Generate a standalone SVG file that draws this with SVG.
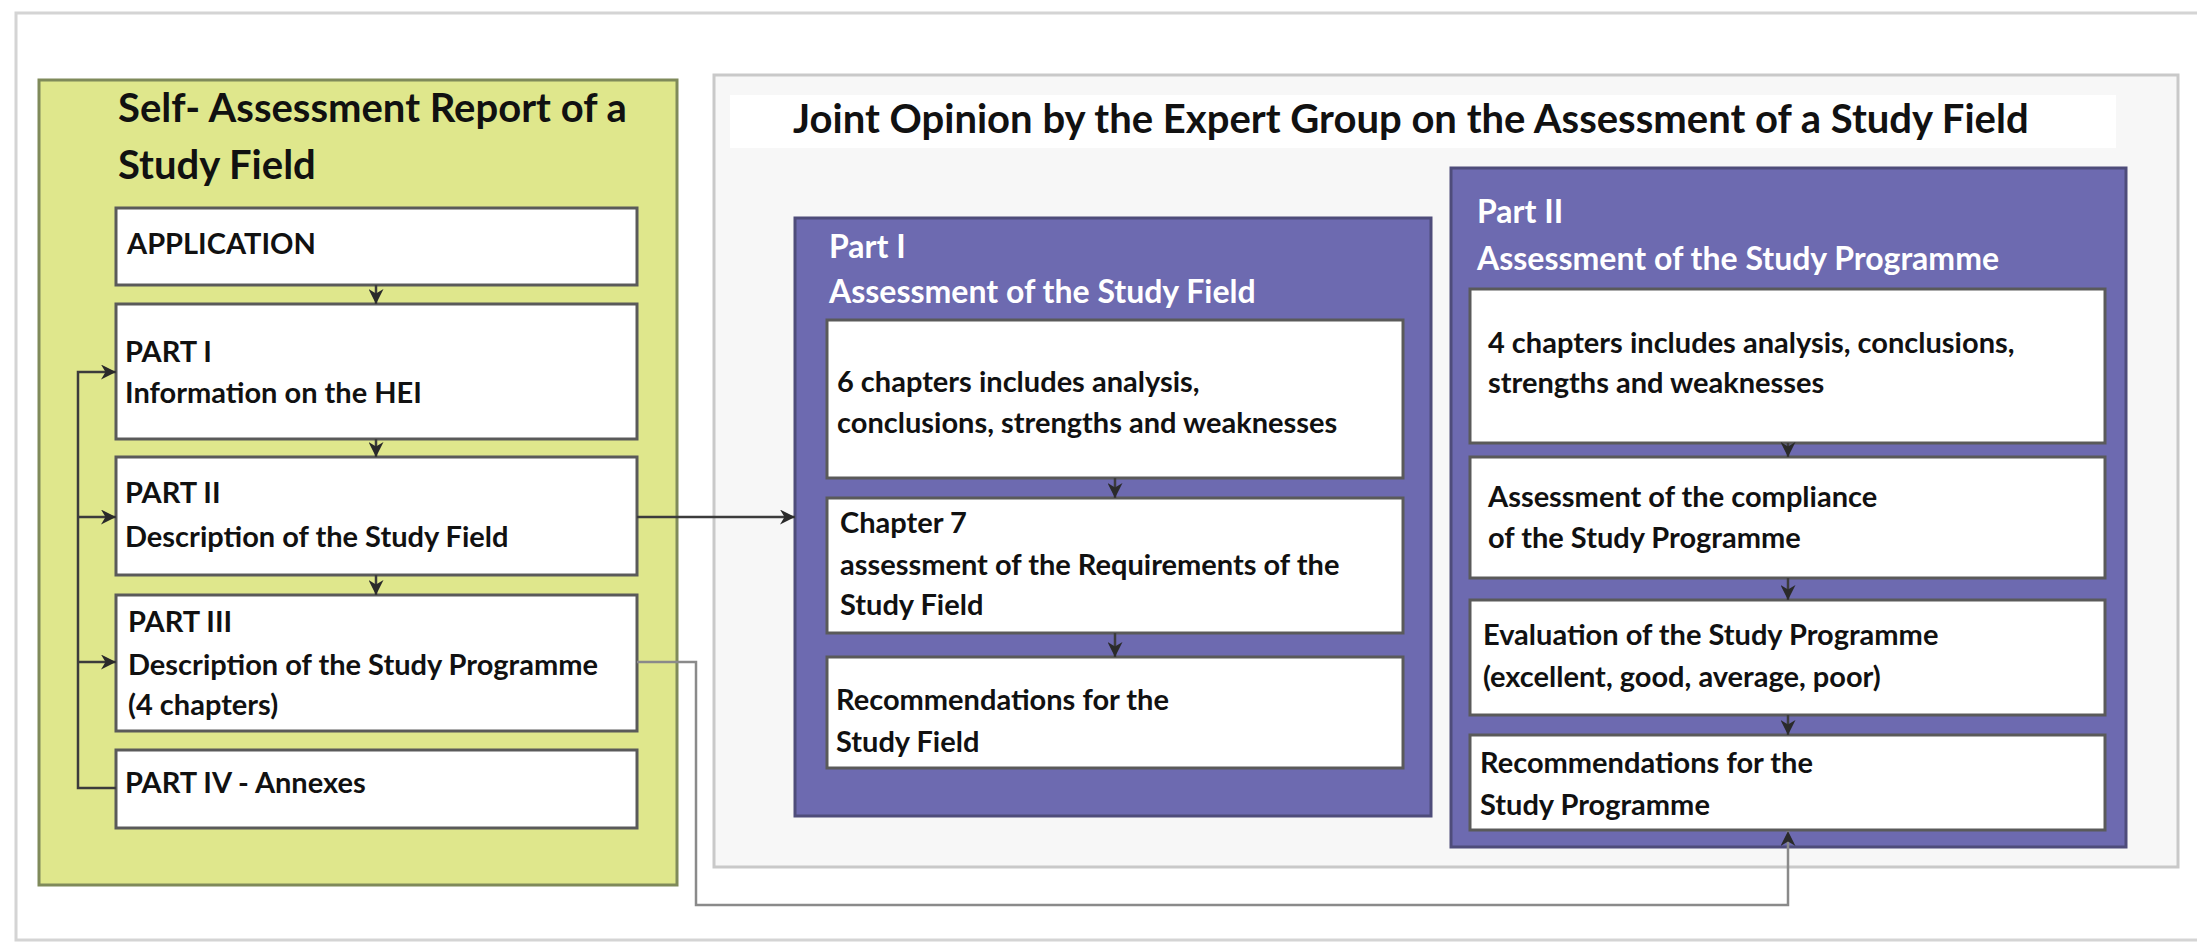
<svg xmlns="http://www.w3.org/2000/svg" width="2197" height="942" viewBox="0 0 2197 942">
<style>
.frame{fill:#ffffff;stroke:#d4d4d4;stroke-width:3}
.green{fill:#dfe78c;stroke:#7f8a5a;stroke-width:3}
.joint{fill:#f7f7f7;stroke:#c9c9c9;stroke-width:3}
.banner{fill:#ffffff}
.purple{fill:#6d6ab0;stroke:#4e4c7a;stroke-width:3}
.box{fill:#ffffff;stroke:#5a5a5a;stroke-width:3}
.t{font-family:Lato,"Liberation Sans",sans-serif;font-weight:bold;fill:#111}
.title{font-size:40px}
.body{font-size:29px}
.head{font-size:32px;fill:#ffffff}
.con{fill:none;stroke:#3c3c3c;stroke-width:2.5}
.con2{fill:none;stroke:#8a8a8a;stroke-width:2.5}
</style>
<defs>
<marker id="ah" viewBox="0 0 10 10" refX="10" refY="5" markerWidth="6" markerHeight="6" orient="auto" markerUnits="strokeWidth">
<path d="M0,0 L10,5 L0,10 L3,5 Z" fill="#2a2a2a"/>
</marker>
</defs>
<rect class="frame" x="16" y="13" width="2200" height="927"/>

<g id="self-assessment">
<rect class="green" x="39" y="80" width="638" height="805"/>
<text class="t title" x="118" y="122">Self- Assessment Report of a</text>
<text class="t title" x="118" y="179">Study Field</text>
</g>
<g id="application">
<rect class="box" x="116" y="208" width="521" height="77"/>
<text class="t body" x="127" y="254">APPLICATION</text>
</g>
<g id="part1">
<rect class="box" x="116" y="304" width="521" height="135"/>
<text class="t body" x="125" y="362">PART I</text>
<text class="t body" x="125" y="403">Information on the HEI</text>
</g>
<g id="part2">
<rect class="box" x="116" y="457" width="521" height="118"/>
<text class="t body" x="125" y="503">PART II</text>
<text class="t body" x="125" y="547">Description of the Study Field</text>
</g>
<g id="part3">
<rect class="box" x="116" y="595" width="521" height="136"/>
<text class="t body" x="128" y="632">PART III</text>
<text class="t body" x="128" y="675">Description of the Study Programme</text>
<text class="t body" x="128" y="715">(4 chapters)</text>
</g>
<g id="part4">
<rect class="box" x="116" y="750" width="521" height="78"/>
<text class="t body" x="125" y="793">PART IV - Annexes</text>
</g>

<g id="joint-opinion">
<rect class="joint" x="714" y="75" width="1464" height="792"/>
<rect class="banner" x="730" y="95" width="1386" height="53"/>
<text class="t title" x="793" y="133">Joint Opinion by the Expert Group on the Assessment of a Study Field</text>
</g>

<g id="jo-part1">
<rect class="purple" x="795" y="218" width="636" height="598"/>
<text class="t head" x="829" y="258">Part I</text>
<text class="t head" x="829" y="303">Assessment of the Study Field</text>
</g>
<g id="jo-p1-chapters">
<rect class="box" x="827" y="320" width="576" height="158"/>
<text class="t body" x="837" y="392">6 chapters includes analysis,</text>
<text class="t body" x="837" y="433">conclusions, strengths and weaknesses</text>
</g>
<g id="jo-p1-chapter7">
<rect class="box" x="827" y="498" width="576" height="135"/>
<text class="t body" x="840" y="533">Chapter 7</text>
<text class="t body" x="840" y="575">assessment of the Requirements of the</text>
<text class="t body" x="840" y="615">Study Field</text>
</g>
<g id="jo-p1-recommendations">
<rect class="box" x="827" y="657" width="576" height="111"/>
<text class="t body" x="836" y="710">Recommendations for the</text>
<text class="t body" x="836" y="752">Study Field</text>
</g>

<g id="jo-part2">
<rect class="purple" x="1451" y="168" width="675" height="679"/>
<text class="t head" x="1477" y="223">Part II</text>
<text class="t head" x="1477" y="270">Assessment of the Study Programme</text>
</g>
<g id="jo-p2-chapters">
<rect class="box" x="1470" y="289" width="635" height="154"/>
<text class="t body" x="1488" y="353">4 chapters includes analysis, conclusions,</text>
<text class="t body" x="1488" y="393">strengths and weaknesses</text>
</g>
<g id="jo-p2-compliance">
<rect class="box" x="1470" y="457" width="635" height="121"/>
<text class="t body" x="1488" y="507">Assessment of the compliance</text>
<text class="t body" x="1488" y="548">of the Study Programme</text>
</g>
<g id="jo-p2-evaluation">
<rect class="box" x="1470" y="600" width="635" height="115"/>
<text class="t body" x="1483" y="645">Evaluation of the Study Programme</text>
<text class="t body" x="1483" y="687">(excellent, good, average, poor)</text>
</g>
<g id="jo-p2-recommendations">
<rect class="box" x="1470" y="735" width="635" height="95"/>
<text class="t body" x="1480" y="773">Recommendations for the</text>
<text class="t body" x="1480" y="815">Study Programme</text>
</g>

<g id="connectors">
<path class="con" d="M376,285 V304" marker-end="url(#ah)"/>
<path class="con" d="M376,439 V457" marker-end="url(#ah)"/>
<path class="con" d="M376,575 V595" marker-end="url(#ah)"/>
<path class="con" d="M116,788 H78 V372 H116" marker-end="url(#ah)"/>
<path class="con" d="M78,517 H116" marker-end="url(#ah)"/>
<path class="con" d="M78,662 H116" marker-end="url(#ah)"/>
<path class="con" d="M637,517 H795" marker-end="url(#ah)"/>
<path class="con2" d="M637,662 H696 V905 H1788 V831" marker-end="url(#ah)"/>
<path class="con" d="M1115,478 V498" marker-end="url(#ah)"/>
<path class="con" d="M1115,633 V657" marker-end="url(#ah)"/>
<path class="con" d="M1788,443 V457" marker-end="url(#ah)"/>
<path class="con" d="M1788,578 V600" marker-end="url(#ah)"/>
<path class="con" d="M1788,715 V735" marker-end="url(#ah)"/>
</g>
</svg>
